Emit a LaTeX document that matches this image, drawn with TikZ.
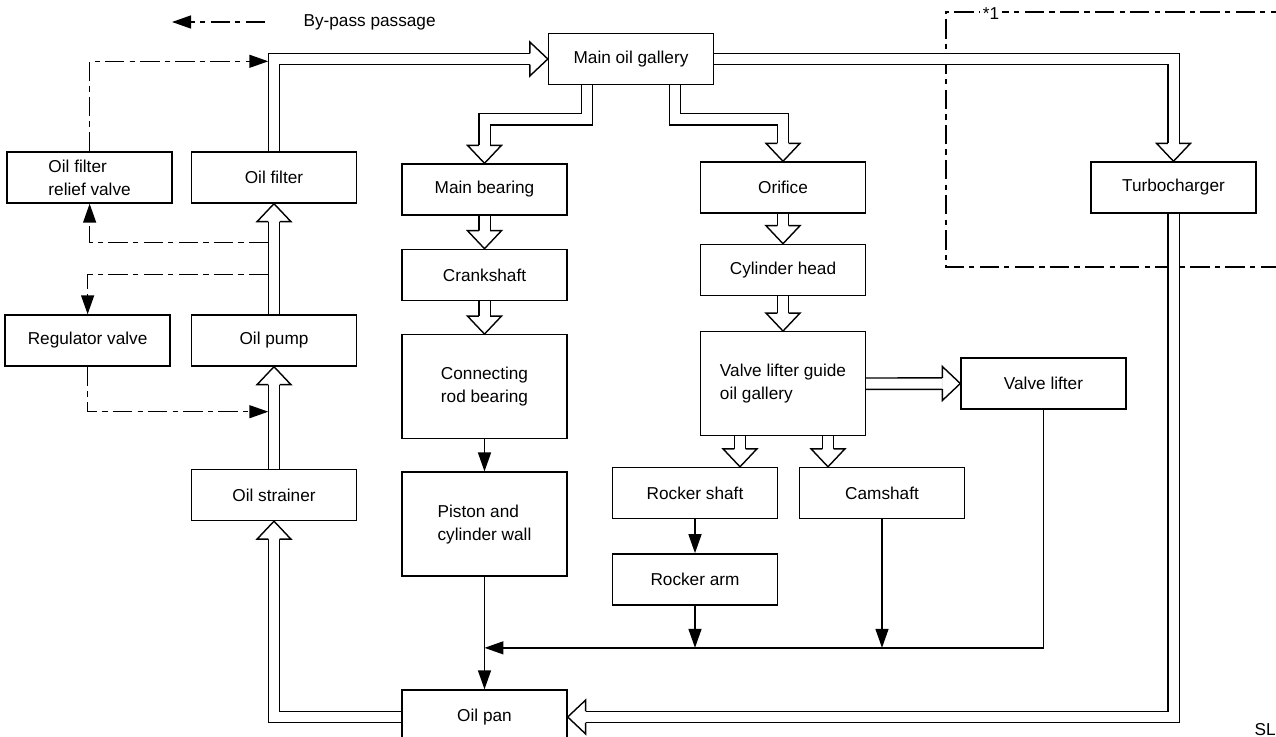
\documentclass[tikz,border=0pt]{standalone}
\usepackage{fontspec}
\setmainfont{Liberation Sans}
\usetikzlibrary{positioning,arrows.meta,calc}

\begin{document}
\begin{tikzpicture}[x=0.02cm,y=-0.02cm,node distance=0.66cm,
    >={Triangle[length=0.38cm,width=0.26cm]},line width=0.8pt,
    font=\fontsize{9.8}{13}\selectfont,
    part/.style={draw,minimum width=3.3cm,minimum height=1.02cm,align=center},
    tall/.style={part,minimum height=2.08cm,align=left},
    pipe/.style={double=white,double distance=0.2cm,shorten >=0.36cm},
    bypass/.style={dash pattern=on 11pt off 3pt on 3pt off 3pt},
    pics/hollowhead/.style={code={
      \draw[fill=white] (-5.7,-18) -- (-17,-18) -- (0,0) -- (17,-18) -- (5.7,-18);}}]
  \useasboundingbox (0,0) rectangle (1276,737);

  % legend
  \node[anchor=west] (legtxt) at (297,22) {By-pass passage};
  \draw[bypass,->] ([xshift=-0.64cm]legtxt.west) -- ++(-93,0);

  % parts
  \node[part] (gal) at (631,59) {Main oil gallery};
  \node[part] (filt) at (274,177.5) {Oil filter};
  \node[part,align=left,left=0.36cm of filt] (relief) {Oil filter\\relief valve};
  \node[part] (pump) at (274,340.5) {Oil pump};
  \node[part,left=0.4cm of pump] (reg) {Regulator valve};
  \node[part] (strain) at (274,495) {Oil strainer};
  \node[part] (mbrg) at (484.5,189.5) {Main bearing};
  \node[part,below=of mbrg] (crank) {Crankshaft};
  \node[tall,align=center,below=of crank] (conrod) {Connecting\\rod bearing};
  \node[tall,below=0.64cm of conrod] (piston) {Piston and\\cylinder wall};
  \node[part,minimum height=1.08cm] (pan) at (484.5,717) {Oil pan};
  \node[part] (orif) at (783,187.5) {Orifice};
  \node[part,below=0.6cm of orif] (cylh) {Cylinder head};
  \node[tall,below=0.7cm of cylh] (guide) {Valve lifter guide\\oil gallery};
  \node[part] (vlift) at (1043.5,383.5) {Valve lifter};
  \node[part] (rshaft) at (695,493) {Rocker shaft};
  \node[part] (cam) at (882,493) {Camshaft};
  \node[part,below=0.68cm of rshaft] (rarm) {Rocker arm};
  \node[part] (turbo) at (1173.5,187.5) {Turbocharger};

  % turbocharger area *1
  \draw[bypass] (1290,12) -- (946,12) -- (946,267) -- (1290,267);
  \node[fill=white,inner sep=1.5pt] (star) at (991,14) {*1};
  \node[anchor=base west,inner sep=0pt] (sl) at (1254,735) {SL};

  % main flow
  \coordinate (gl) at ($(gal.south)+(-44,0)$);
  \coordinate (gr) at ($(gal.south)+(44,0)$);
  \coordinate (ul) at ($(guide.south)+(-43,0)$);
  \coordinate (ur) at ($(guide.south)+(45,0)$);
  \draw[pipe] (strain.north) -- (pump.south);
  \draw[pipe] (pump.north) -- (filt.south);
  \draw[pipe] (filt.north) |- (gal.west);
  \draw[pipe] (gl) -- ++(0,34) -| (mbrg.north);
  \draw[pipe] (gr) -- ++(0,34) -| (orif.north);
  \draw[pipe] (gal.east) -| (turbo.north);
  \draw[pipe] (mbrg) -- (crank);
  \draw[pipe] (crank) -- (conrod);
  \draw[pipe] (orif) -- (cylh);
  \draw[pipe] (cylh) -- (guide);
  \draw[pipe] (guide) -- (vlift);
  \draw[pipe] (ul) -- (ul |- rshaft.north);
  \draw[pipe] (ur) -- (ur |- cam.north);
  \draw[pipe] (turbo.south) |- (pan.east);
  \draw[pipe] (pan.west) -| (strain.south);
  \pic[rotate=180] at (pump.south) {hollowhead};
  \pic[rotate=180] at (filt.south) {hollowhead};
  \pic[rotate=90] at (gal.west) {hollowhead};
  \pic at (mbrg.north) {hollowhead};
  \pic at (orif.north) {hollowhead};
  \pic at (turbo.north) {hollowhead};
  \pic at (crank.north) {hollowhead};
  \pic at (conrod.north) {hollowhead};
  \pic at (cylh.north) {hollowhead};
  \pic at (guide.north) {hollowhead};
  \pic[rotate=90] at (vlift.west) {hollowhead};
  \pic at (ul |- rshaft.north) {hollowhead};
  \pic at (ur |- cam.north) {hollowhead};
  \pic[rotate=-90] at (pan.east) {hollowhead};
  \pic[rotate=180] at (strain.south) {hollowhead};

  % return to oil pan
  \coordinate (jn) at ($(piston.south)+(0,71)$);
  \draw[->] (conrod) -- (piston);
  \draw[->] (piston) -- (pan);
  \draw[->] (rshaft) -- (rarm);
  \draw[->] (vlift.south) |- (jn);
  \draw[->] (rarm.south) -- (rarm.south |- jn);
  \draw[->] (cam.south) -- (cam.south |- jn);

  % by-pass passages
  \coordinate (t1) at ($(filt.south)+(-5.7,39)$);
  \coordinate (t2) at ($(filt.south)+(-5.7,71)$);
  \coordinate (t3) at ($(pump.south)+(-5.7,45)$);
  \coordinate (t4) at ($(filt.north)+(-5.7,-90)$);
  \draw[bypass,->] (t1) -| (relief.south);
  \draw[bypass,->] (t2) -| (reg.north);
  \draw[bypass,->] (reg.south) |- (t3);
  \draw[bypass,->] (relief.north) |- (t4);
\end{tikzpicture}
\end{document}
